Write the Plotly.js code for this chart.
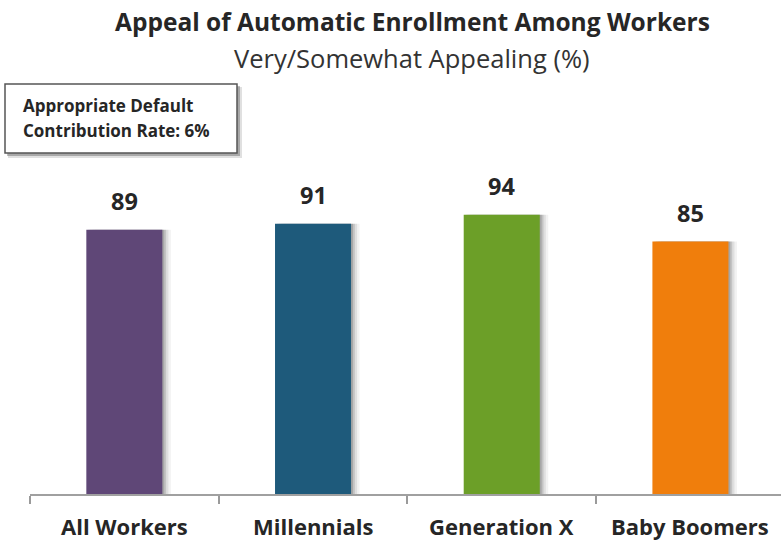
<!DOCTYPE html>
<html><head><meta charset="utf-8">
<script src="https://cdn.plot.ly/plotly-3.0.1.min.js"></script>
<style>body{margin:0;background:#fff}#chart{width:781px;height:542px}</style>
</head><body><div id="chart"></div>
<script>
const categories = ["All Workers", "Millennials", "Generation X", "Baby Boomers"];
const values = [89, 91, 94, 85];
const colors = ["#5F4777", "#1E5A7B", "#6C9F28", "#F07E0C"];
const titleText = "Appeal of Automatic Enrollment Among Workers";
const subtitleText = "Very/Somewhat Appealing (%)";
const boxLines = ["Appropriate Default", "Contribution Rate: 6%"];

const W = 781, H = 542;
const M = {l: 30, r: 0, t: 197, b: 48};
const pw = W - M.l - M.r, ph = H - M.t - M.b;
const px = x => (x - M.l) / pw;
const py = y => (H - M.b - y) / ph;
const FONT = "Open Sans, DejaVu Sans, sans-serif";

const barW = 0.403;
const shadow = (dx, op) => ({
  type: 'bar', x: categories.map((c, i) => i), y: values,
  width: barW, offset: -barW / 2 + dx,
  marker: {color: 'rgba(0,0,0,' + op + ')', line: {width: 0}},
  hoverinfo: 'skip', showlegend: false
});

const traces = [
  shadow(0.045, 0.05), shadow(0.032, 0.08), shadow(0.02, 0.12), shadow(0.01, 0.15),
  {
    type: 'bar', x: categories.map((c, i) => i), y: values,
    width: barW, offset: -barW / 2,
    marker: {color: colors, line: {width: 0}},
    hoverinfo: 'skip', showlegend: false
  }
];

const annotations = values.map((v, i) => ({
  x: i, y: v, xref: 'x', yref: 'y', text: '<b>' + v + '</b>',
  showarrow: false, yanchor: 'bottom', yshift: 11,
  font: {family: FONT, size: 23.5, color: '#262626'}
}));
annotations.push({
  xref: 'paper', yref: 'paper', x: px(W / 2 + 22), y: py(22), xanchor: 'center', yanchor: 'middle',
  text: '<b>' + titleText + '</b>', showarrow: false,
  font: {family: FONT, size: 24.5, color: '#262626'}
});
annotations.push({
  xref: 'paper', yref: 'paper', x: px(W / 2 + 21), y: py(58), xanchor: 'center', yanchor: 'middle',
  text: subtitleText, showarrow: false,
  font: {family: FONT, size: 25.5, color: '#333333'}
});
boxLines.forEach((t, i) => annotations.push({
  xref: 'paper', yref: 'paper', x: px(21), y: py(105 + i * 26), xanchor: 'left', yanchor: 'middle',
  text: '<b>' + t + '</b>', showarrow: false, align: 'left',
  font: {family: FONT, size: 17, color: '#262626'}
}));
categories.forEach((c, i) => annotations.push({
  x: i, xref: 'x', yref: 'paper', y: py(526), yanchor: 'middle', borderpad: 0,
  text: '<b>' + c + '</b>', showarrow: false,
  font: {family: FONT, size: 22, color: '#262626'}
}));

const shapes = [
  {type: 'rect', xref: 'paper', yref: 'paper', x0: px(8), x1: px(242), y0: py(87), y1: py(158),
   fillcolor: 'rgba(0,0,0,0.12)', line: {width: 0}, layer: 'above'},
  {type: 'rect', xref: 'paper', yref: 'paper', x0: px(7), x1: px(240), y0: py(86), y1: py(156),
   fillcolor: 'rgba(0,0,0,0.25)', line: {width: 0}, layer: 'above'},
  {type: 'rect', xref: 'paper', yref: 'paper', x0: px(5), x1: px(237), y0: py(84), y1: py(153),
   fillcolor: '#ffffff', line: {color: '#555555', width: 1.5}, layer: 'above'}
];

const layout = {
  width: W, height: H, margin: M,
  paper_bgcolor: '#fff', plot_bgcolor: '#fff',
  barmode: 'overlay', showlegend: false,
  xaxis: {
    range: [-0.5, 3.48], tickvals: [-0.5, 0.5, 1.5, 2.5, 3.5], ticktext: ['', '', '', '', ''],
    ticks: 'outside', ticklen: 8, tickcolor: '#9a9a9a', tickwidth: 2,
    showline: true, linecolor: '#a0a0a0', linewidth: 2, showgrid: false, zeroline: false,
    fixedrange: true
  },
  yaxis: {range: [0, 100], visible: false, showgrid: false, zeroline: false, fixedrange: true},
  annotations: annotations, shapes: shapes
};

Plotly.newPlot('chart', traces, layout, {displayModeBar: false, staticPlot: true});
</script></body></html>
